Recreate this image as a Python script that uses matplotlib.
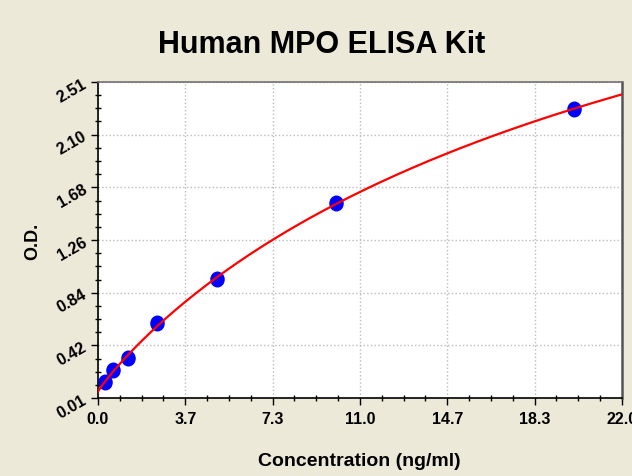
import numpy as np
import matplotlib
matplotlib.use("Agg")
import matplotlib.pyplot as plt
from matplotlib.ticker import AutoMinorLocator
from matplotlib.markers import MarkerStyle
from matplotlib.transforms import Affine2D

# standard points
conc = [0.3125, 0.625, 1.25, 2.5, 5.0, 10.0, 20.0]
od = [0.14, 0.23, 0.33, 0.60, 0.95, 1.55, 2.30]

xtick_labels = ["0.0", "3.7", "7.3", "11.0", "14.7", "18.3", "22.0"]
ytick_labels = ["0.01", "0.42", "0.84", "1.26", "1.68", "2.10", "2.51"]
x_range = (0.0, 22.0)
y_range = (0.01, 2.51)


def fit_4pl(x, y):
    # coarse grid over slope/midpoint, exact least squares for the asymptotes
    x = np.asarray(x, float)
    y = np.asarray(y, float)
    best = None
    for b in np.linspace(0.5, 2.5, 81):
        for c in np.logspace(0, 3, 241):
            f = 1.0 / (1.0 + (x / c) ** b)
            A = np.column_stack([f, 1.0 - f])
            (a, d), *_ = np.linalg.lstsq(A, y, rcond=None)
            err = np.sum((A @ [a, d] - y) ** 2)
            if best is None or err < best[0]:
                best = (err, a, b, c, d)
    _, a, b, c, d = best
    return lambda t: d + (a - d) / (1.0 + (np.asarray(t) / c) ** b)


plt.rcParams["font.family"] = ["Liberation Sans", "DejaVu Sans"]

fig = plt.figure(figsize=(6.32, 4.77), dpi=100, facecolor="#ECE9D8")
ax = fig.add_axes([0.155, 0.1635, 0.829, 0.6625])
ax.set_facecolor("white")

curve = fit_4pl(conc, od)
xs = np.linspace(x_range[0], x_range[1], 300)
ax.plot(xs, curve(xs), color="#ff0000", lw=1.6, zorder=3)

oval = MarkerStyle("o", transform=Affine2D().scale(0.9, 1.0))
ax.plot(conc, od, linestyle="none", marker=oval, markersize=10.5,
        color="#0000ff", zorder=2)

ax.set_xlim(*x_range)
ax.set_ylim(*y_range)
ax.set_xticks(np.linspace(x_range[0], x_range[1], len(xtick_labels)))
ax.set_xticklabels(xtick_labels)
ax.set_yticks(np.linspace(y_range[0], y_range[1], len(ytick_labels)))
ax.set_yticklabels(ytick_labels, rotation=30, ha="right", va="center",
                   rotation_mode="anchor")
ax.xaxis.set_minor_locator(AutoMinorLocator(4))
ax.yaxis.set_minor_locator(AutoMinorLocator(4))
ax.tick_params(which="major", direction="out", length=5, width=1, pad=4,
               labelsize=11.5)
ax.tick_params(which="minor", direction="inout", length=4, width=1)
for lab in ax.get_xticklabels() + ax.get_yticklabels():
    lab.set_fontweight("bold")

ax.grid(which="major", color="#bbbbbb", linestyle=":", linewidth=1)

ax.spines["left"].set_color("black")
ax.spines["bottom"].set_color("black")
ax.spines["left"].set_linewidth(1.2)
ax.spines["bottom"].set_linewidth(1.2)
ax.spines["top"].set_color("#707070")
ax.spines["top"].set_linewidth(1.2)
ax.spines["right"].set_color("#555555")
ax.spines["right"].set_linewidth(1.8)

fig.text(322 / 632, 1 - 45 / 477, "Human MPO ELISA Kit", ha="center",
         va="center", fontsize=22, fontweight="bold")
fig.text(359 / 632, 1 - 462 / 477, "Concentration (ng/ml)", ha="center",
         va="center", fontsize=14, fontweight="bold")
fig.text(33 / 632, 1 - 241 / 477, "O.D.", ha="center", va="center",
         rotation=90, fontsize=13, fontweight="bold")

fig.savefig("out.png", dpi=100, facecolor=fig.get_facecolor())
